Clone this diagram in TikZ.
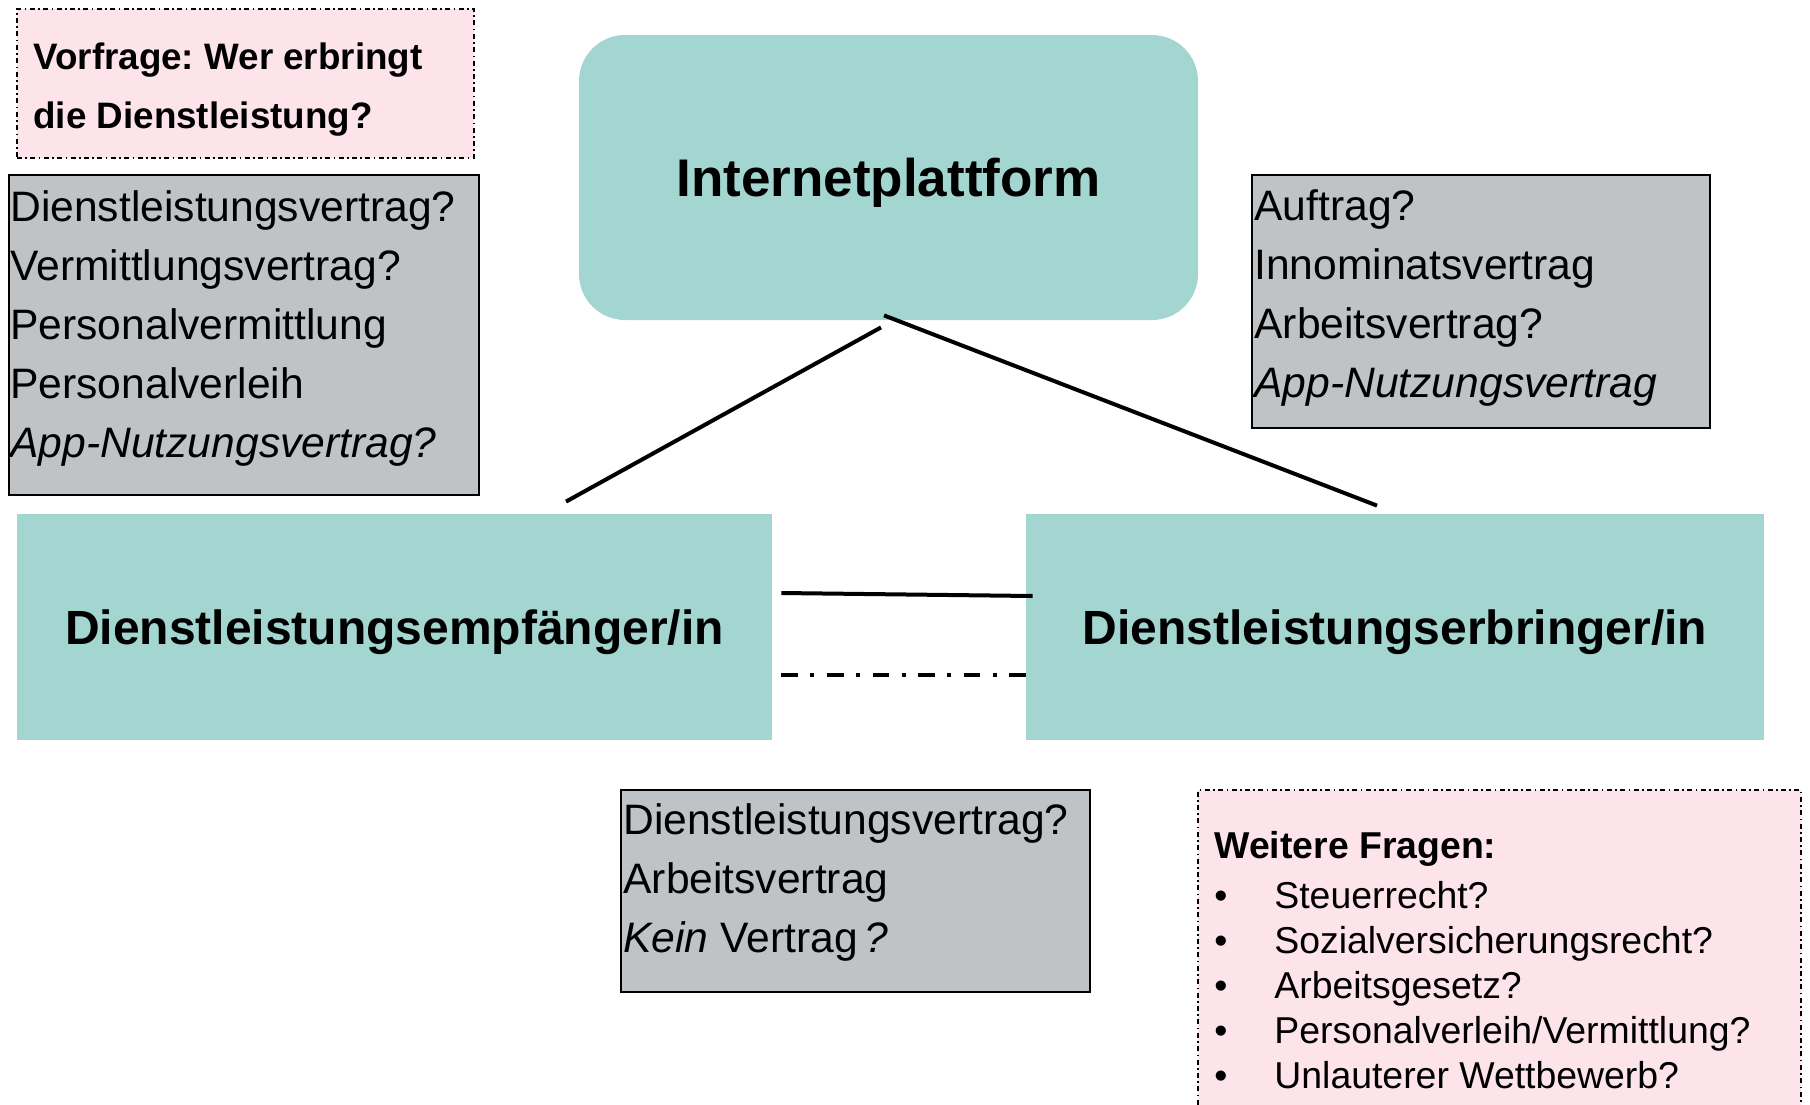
\documentclass[tikz,border=0pt]{standalone}
\usepackage{fontspec}
\setmainfont{Liberation Sans}
\usetikzlibrary{calc}
\frenchspacing

\definecolor{tuerkis}{HTML}{A3D6D1}
\definecolor{grau}{HTML}{BFC3C6}
\definecolor{rosa}{HTML}{FCE4EA}

\tikzset{
	partei/.style={fill=tuerkis, inner sep=0pt, text depth=0pt, font=\fontsize{24}{28}\selectfont\bfseries},
	vertragbox/.style={fill=grau, draw=black, line width=0.8pt, inner sep=0pt},
	fragebox/.style={fill=rosa, draw=black, line width=0.8pt,
		dash pattern=on 2.5pt off 1.7pt on 0.8pt off 1.7pt, inner sep=0pt},
	liste/.style={align=left, inner sep=0pt, font=\fontsize{21.3}{29.5}\selectfont},
	beziehung/.style={line width=2pt},
	vertrag/.style={line width=2pt}
}

\begin{document}
\begin{tikzpicture}[x=0.5pt,y=-0.5pt]
\useasboundingbox (0,0) rectangle (1810,1104);

% Parteien
\node[partei, rounded corners=23pt, minimum width=309.5pt, minimum height=142.5pt,
	font=\fontsize{26.5}{30}\selectfont\bfseries] (plattform) at (888.5,177.5) {Internetplattform};
\node[partei, minimum width=377.5pt, minimum height=113pt] (empfaenger) at (394.5,627) {Dienstleistungsempf\"anger/in};
\node[partei, minimum width=369pt, minimum height=113pt] (erbringer) at (1395,627) {Dienstleistungserbringer/in};

% Fragen
\node[fragebox, minimum width=228.5pt, minimum height=74.5pt] (vorfrage) at (245.5,83.5) {};
\node[align=left, inner sep=0pt, anchor=west, font=\fontsize{18.4}{29.5}\selectfont\bfseries]
	(vorfragetext) at (33,90) {Vorfrage: Wer erbringt\\die Dienstleistung?};
\node[fragebox, minimum width=301.5pt, minimum height=160pt] (weitere) at (1499.5,950) {};
\node[align=left, inner sep=0pt, anchor=west, font=\fontsize{18.7}{22.5}\selectfont]
	(weiteretext) at (1214,960) {\textbf{Weitere Fragen:}\\[2.5pt]
	\makebox[30pt][l]{\textbullet}Steuerrecht?\\
	\makebox[30pt][l]{\textbullet}Sozialversicherungsrecht?\\
	\makebox[30pt][l]{\textbullet}Arbeitsgesetz?\\
	\makebox[30pt][l]{\textbullet}Personalverleih/Vermittlung?\\
	\makebox[30pt][l]{\textbullet}Unlauterer Wettbewerb?};

% Vertraege
\node[vertragbox, minimum width=235pt, minimum height=160pt] (vertragL) at (244,335) {};
\node[liste, anchor=west] (vertragLtext) at (10,328) {Dienstleistungsvertrag?\\Vermittlungsvertrag?\\Personalvermittlung\\Personalverleih\\\textit{App-Nutzungsvertrag?}};
\node[vertragbox, minimum width=229pt, minimum height=126.5pt] (vertragR) at (1481,301.5) {};
\node[liste, anchor=west] (vertragRtext) at (1254,298) {Auftrag?\\Innominatsvertrag\\Arbeitsvertrag?\\\textit{App-Nutzungsvertrag}};
\node[vertragbox, minimum width=234.5pt, minimum height=101pt] (vertragU) at (855.5,891) {};
\node[liste, anchor=west] (vertragUtext) at (623,882) {Dienstleistungsvertrag?\\Arbeitsvertrag\\\textit{Kein} Vertrag\,\textit{?}};

% Beziehungen
\draw[beziehung] ($(plattform.south)+(-7.5,7)$) -- ($(empfaenger.north)+(171.5,-12)$);
\draw[beziehung] ($(plattform.south)+(-4.5,-5)$) -- ($(erbringer.north)+(-18,-8)$);
\draw[vertrag] ($(empfaenger.east)+(9,-34)$) -- ($(erbringer.west)+(7,-31)$);
\draw[vertrag, dash pattern=on 8.3pt off 6.2pt on 2pt off 6.3pt] ($(empfaenger.east)+(9,48)$) -- ($(erbringer.west)+(0,48)$);
\end{tikzpicture}
\end{document}
